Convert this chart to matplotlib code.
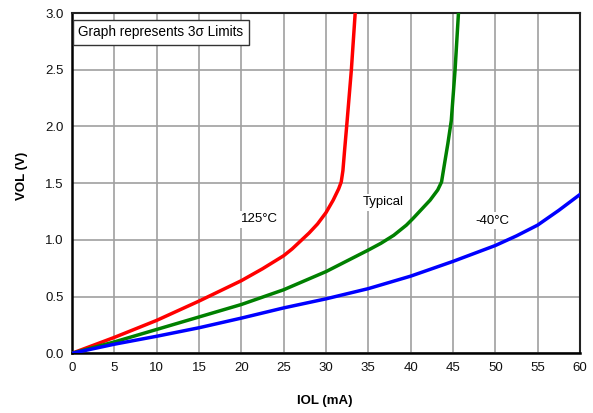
import matplotlib
matplotlib.use("Agg")
import matplotlib.pyplot as plt

plt.rcParams['font.family'] = ['Liberation Sans', 'DejaVu Sans']

# Data
red_x = [0, 5, 10, 15, 20, 22.5, 25, 26, 27, 28, 29, 30, 30.85, 31.5, 31.8, 32.0, 32.2, 32.5, 33.0, 33.45]
red_y = [0, 0.14, 0.29, 0.46, 0.64, 0.745, 0.86, 0.92, 0.99, 1.06, 1.14, 1.24, 1.35, 1.45, 1.51, 1.61, 1.79, 2.05, 2.5, 3.0]

green_x = [0, 5, 10, 15, 20, 25, 30, 35, 36.5, 38, 39.5, 40.3, 42.3, 43.2, 43.65, 44.0, 44.4, 44.8, 45.25, 45.65]
green_y = [0, 0.10, 0.21, 0.32, 0.43, 0.56, 0.72, 0.91, 0.97, 1.04, 1.13, 1.19, 1.35, 1.44, 1.51, 1.67, 1.85, 2.05, 2.5, 3.0]

blue_x = [0, 5, 10, 15, 20, 25, 30, 35, 40, 45, 50, 52.5, 55, 57.5, 60]
blue_y = [0, 0.08, 0.15, 0.225, 0.31, 0.40, 0.48, 0.57, 0.68, 0.81, 0.95, 1.035, 1.13, 1.26, 1.40]

x_ticks = list(range(0, 61, 5))
y_ticks = [0.0, 0.5, 1.0, 1.5, 2.0, 2.5, 3.0]

labels = ["125°C", "Typical", "-40°C"]
label_pos = [(22.2, 1.18), (36.8, 1.33), (49.7, 1.17)]

fig = plt.figure(figsize=(5.93, 4.13), dpi=100)
ax = fig.add_axes([0.1214, 0.1446, 0.978 - 0.1214, 0.9685 - 0.1446])

for xs, ys, c in [(red_x, red_y, '#ff0000'), (green_x, green_y, '#008000'), (blue_x, blue_y, '#0000ff')]:
    ax.plot(xs, ys, color=c, lw=2.5, zorder=3, solid_capstyle='round', solid_joinstyle='round')

ax.set_xlim(0, 60)
ax.set_ylim(0, 3.0)
ax.set_xticks(x_ticks)
ax.set_yticks(y_ticks)
ax.set_yticklabels([f"{v:.1f}" for v in y_ticks])
ax.tick_params(length=0, labelsize=9.5, pad=6, colors='#111111')
ax.grid(True, color='#a0a0a0', lw=1.2)
ax.set_axisbelow(True)
for s in ['left', 'bottom']:
    ax.spines[s].set_linewidth(1.8)
    ax.spines[s].set_color('black')
for s in ['top', 'right']:
    ax.spines[s].set_linewidth(1.5)
    ax.spines[s].set_color('#222222')

for lab, (lx, ly) in zip(labels, label_pos):
    ax.text(lx, ly, lab, ha='center', va='center', fontsize=9.5,
            bbox=dict(facecolor='white', edgecolor='none', pad=1.5), zorder=2)

ax.text(0.012, 0.943, "Graph represents 3σ Limits", transform=ax.transAxes,
        ha='left', va='center', fontsize=9.8, zorder=4,
        bbox=dict(facecolor='white', edgecolor='#333333', lw=1.0,
                  boxstyle='square,pad=0.4'))

fig.text(0.547, 0.03, "IOL (mA)", ha='center', va='center', fontsize=9.5, fontweight='bold')
fig.text(0.037, 0.575, "VOL (V)", ha='center', va='center', fontsize=9.5,
         fontweight='bold', rotation=90)

fig.savefig("out.png", dpi=100)
